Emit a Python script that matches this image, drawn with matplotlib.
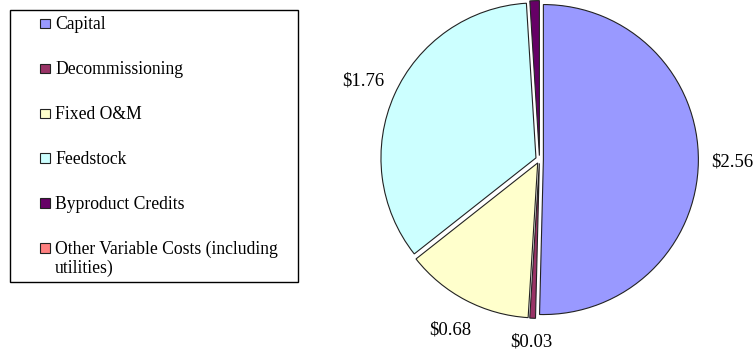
import matplotlib
matplotlib.use("Agg")
import matplotlib.pyplot as plt
from matplotlib.patches import Rectangle

# Cost components ($ per unit)
categories = ["Capital", "Decommissioning", "Fixed O&M", "Feedstock",
              "Byproduct Credits", "Other Variable Costs (including\nutilities)"]
values = [2.56, 0.03, 0.68, 1.76, 0.05, 0.0]
value_labels = ["$2.56", "$0.03", "$0.68", "$1.76", "", ""]
colors = ["#9999FF", "#993366", "#FFFFCC", "#CCFFFF", "#660066", "#FF8080"]

W, H, DPI = 755, 352, 100
fig = plt.figure(figsize=(W / DPI, H / DPI), dpi=DPI)
fig.patch.set_facecolor("white")

# --- pie ---------------------------------------------------------------
R_PX = 155.0            # pie radius in pixels
CX, CY = 539.5, 159.5   # pie centre, pixels from top-left
ax_left_px = 330.0
ax = fig.add_axes([ax_left_px / W, 0, (W - ax_left_px) / W, 1])

shown = [i for i, v in enumerate(values) if v > 0]
wedges, texts = ax.pie(
    [values[i] for i in shown],
    labels=[value_labels[i] for i in shown],
    colors=[colors[i] for i in shown],
    explode=[0.025] * len(shown),
    startangle=90, counterclock=False,
    labeldistance=1.22,
    wedgeprops=dict(edgecolor="#222222", linewidth=0.8),
    textprops=dict(family="Liberation Serif", fontsize=13.5, color="black"),
)
for t in texts:
    t.set_horizontalalignment("center")
    t.set_verticalalignment("center")
# the smallest slice's label sits just under the pie, near the bottom edge
texts[1].set_verticalalignment("bottom")
texts[1].set_position((texts[1].get_position()[0], -(H - CY - 1) / R_PX))

ax.set_aspect("auto")
ax.set_xlim(-(CX - ax_left_px) / R_PX, (W - CX) / R_PX)
ax.set_ylim(-(H - CY) / R_PX, CY / R_PX)
ax.axis("off")

# --- legend box ---------------------------------------------------------
lg = fig.add_axes([0, 0, 1, 1], zorder=-1)
lg.set_xlim(0, W)
lg.set_ylim(H, 0)
lg.axis("off")

lg.add_patch(Rectangle((9.5, 10), 288, 272, facecolor="white",
                       edgecolor="black", linewidth=1.0))
row0, pitch = 23.5, 44.9
for k, (name, col) in enumerate(zip(categories, colors)):
    yc = row0 + k * pitch
    lg.add_patch(Rectangle((40, yc - 4.8), 9.6, 9.6, facecolor=col,
                           edgecolor="#222222", linewidth=0.8))
    lg.text(55, yc - 7.5, name, ha="left", va="top",
            family="Liberation Serif", fontsize=12.7, linespacing=1.12)

fig.savefig("out.png", dpi=DPI)
